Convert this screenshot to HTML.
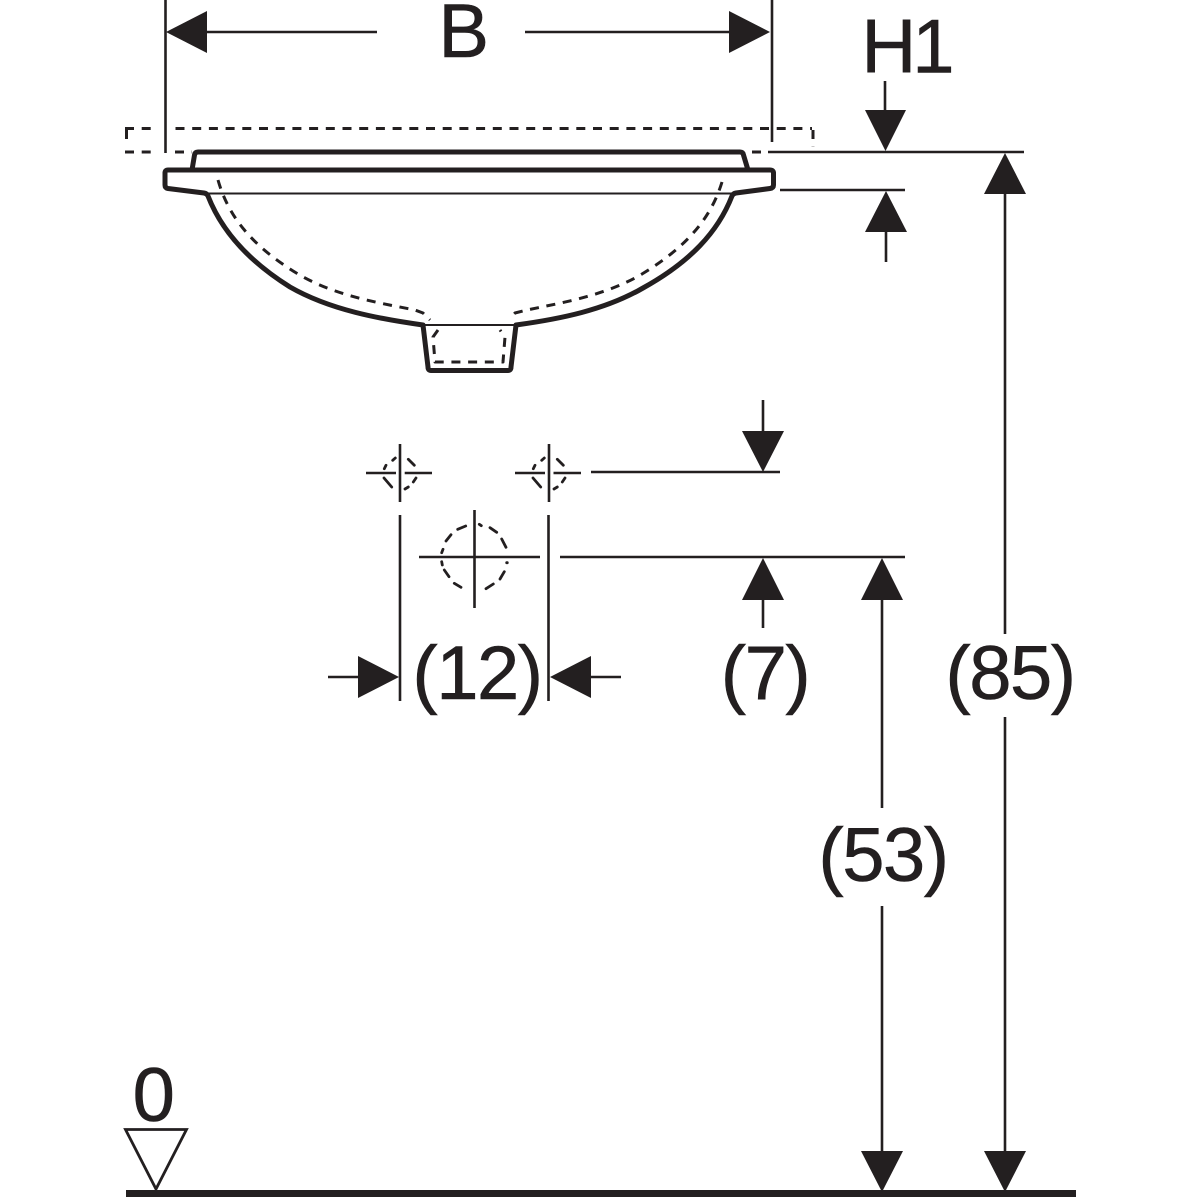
<!DOCTYPE html>
<html><head><meta charset="utf-8"><style>
html,body{margin:0;padding:0;background:#fff}
svg{display:block}
text{font-family:"Liberation Sans",Arial,sans-serif;font-size:76px;fill:#231f20;stroke:#231f20;stroke-width:.6px;text-anchor:middle;letter-spacing:-1.5px}
</style></head><body>
<svg width="1200" height="1200" viewBox="0 0 1200 1200" xmlns="http://www.w3.org/2000/svg">
<g fill="none" stroke="#231f20" stroke-linejoin="round" stroke-linecap="round">
<!-- basin outline -->
<path stroke-width="5" d="M192 170L194.500 155Q195 152 198 152H740Q743 152 743.500 155L748 170M168 170H770Q773.500 170 773.500 173V185Q773.500 188 770 188.500L736 193Q733 193.500 732 196C718 232 690 262 643 288C605 310 560 319 516 325L511 367Q511 370.500 508 370.500H431Q428 370.500 428 367L423 325C380 319 330 310 290 287C250 262 222 232 208 196Q207 193.500 204 193L168 188.500Q165 188 165 185V173Q165 170 168 170Z"/>
<path stroke-width="2" d="M208 193.500H733M425 325H515"/>
<!-- hidden lines -->
<g stroke-width="3" stroke-linecap="butt" stroke-dasharray="9 7.700">
<path d="M218 180C228 215 250 245 298 274C335 296 380 303 415 310L423 313L430 320"/>
<path d="M722 182C712 215 690 245 642 274C605 296 560 303 527 310L515 313L509 319"/>
<path d="M438 330L433 337L435 362H503L505 337L500 330"/>
<path d="M175.500 128.500H812"/>
<path d="M125 128.500H157M125 152H157M175 152H192M752 152H768"/>
<path d="M126.500 130V143M813 130V147"/>
</g>
<!-- extension and dimension lines -->
<g stroke-width="2.600" stroke-linecap="butt">
<path d="M165.500 0V153M772 0V142"/>
<path d="M200 32H377M525 32H735"/>
<path d="M768 152H1024M780 190H905"/>
<path d="M885 81V112M886 230V262"/>
<path d="M1005 190V634M1005 717V1155"/>
<path d="M882 595V808M882 906V1155"/>
<path d="M763 400V435M763 595V628"/>
<path d="M591 472H780M560 557H905"/>
<path d="M328 677H362M587 677H621"/>
<path d="M400 515V701M548.500 515V701"/>
<!-- centre marks -->
<path d="M366 473H396M404.700 473H432M400 444V502"/>
<path d="M515 473H545M553.500 473H581M549 444V502"/>
<path d="M419 557H540M474.500 510V608"/>
</g>
<!-- centre circles -->
<g stroke-width="2.800">
<path d="M457.700 529.300L465.700 526M479.300 524.300L481.300 525.700M490 527.700L496.700 532.300M501.700 539L506 547.300M506.700 562.700L507.300 562.700M504.300 571.700L500 579M493.300 584L486 588.700M461 587.300L454.300 583.300M449 576.700L444.300 570M442.300 565L441.700 561.700M441.700 552.700L443 549.300M446 541L451 534.700"/>
<path d="M408.300 459.300L414.300 465.300M413.300 482L416 478M405 489L408.300 487M384 478L391.700 487M384.300 468.700L386 465.300M392.700 460.300L395.300 458"/>
<path d="M557.300 459.300L563.300 465.300M562.300 482L565 478M554 489L557.300 487M533 478L540.700 487M533.300 468.700L535 465.300M541.700 460.300L544.300 458"/>
</g>
<!-- datum -->
<path stroke-width="2.800" stroke-linejoin="miter" d="M125.500 1129.500H186.500L156 1189Z"/>
<path stroke-width="7" stroke-linecap="butt" d="M126 1193.500H1076"/>
</g>
<!-- arrowheads -->
<g fill="#231f20">
<path d="M166 32L207 11V53Z"/>
<path d="M770 32L729 11V53Z"/>
<path d="M885.500 151L865 110H906Z"/>
<path d="M886 191L865 232H907Z"/>
<path d="M1005 153L984 194H1026Z"/>
<path d="M1005 1192L984 1151H1026Z"/>
<path d="M882 558L861 600H903Z"/>
<path d="M882 1192L861 1151H903Z"/>
<path d="M763 472L742 431H784Z"/>
<path d="M763 558L742 600H784Z"/>
<path d="M399 677L358 656V698Z"/>
<path d="M550 677L591 656V698Z"/>
</g>
<text x="463" y="57">B</text>
<text x="906" y="72.500" style="letter-spacing:-4px">H1</text>
<text x="477" y="699">(12)</text>
<text x="765" y="699">(7)</text>
<text x="1010" y="699">(85)</text>
<text x="883" y="881">(53)</text>
<text x="153" y="1121">0</text>
</svg>
</body></html>
